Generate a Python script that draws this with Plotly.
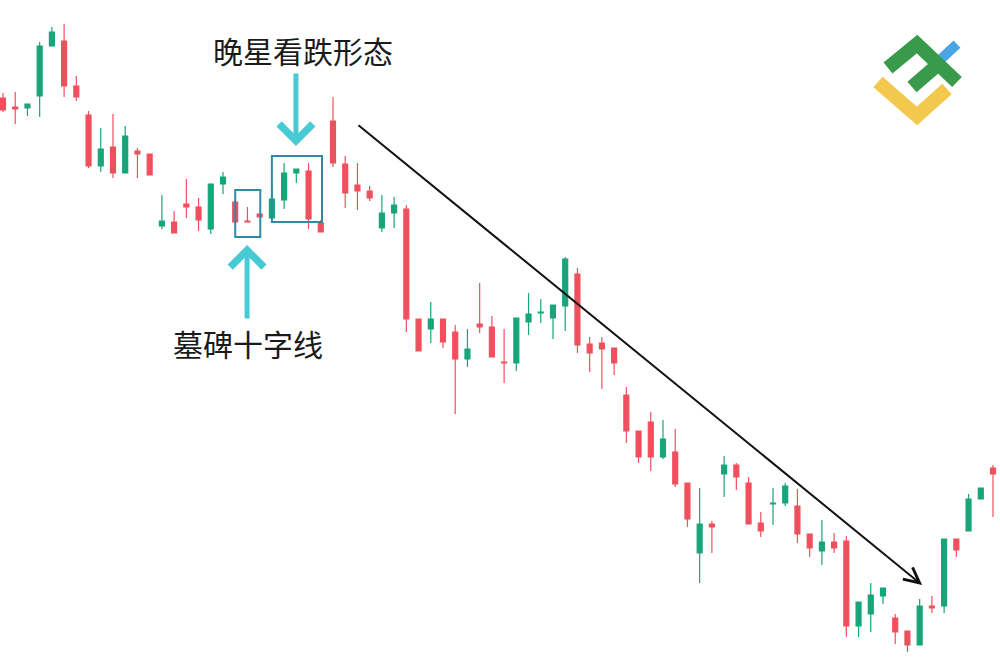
import plotly.graph_objects as go

# ---- data (arbitrary price units) ----
opens  = [602, 593, 592, 604, 654, 659, 614, 585, 534, 553, 527, 549, 546, 474, 478, 496, 493, 471, 516, 498,
          479, 486, 482, 500, 527, 529, 477, 579, 536, 515, 509, 472, 487, 491, 381, 371, 381, 368, 341, 376,
          373, 338, 337, 378, 387, 382, 394, 426, 356, 357, 352, 305, 269, 278, 243, 248, 217, 147, 176, 226,
          235, 217, 177, 196, 197, 194, 166, 149, 158, 159, 74, 86, 104, 82, 69, 55, 94, 94, 161, 169, 201, 232]
highs  = [607, 608, 596, 658, 673, 676, 624, 589, 572, 586, 574, 552, 546, 505, 489, 521, 502, 516, 528, 500,
          493, 486, 515, 537, 531, 537, 480, 603, 544, 537, 514, 505, 503, 495, 381, 398, 381, 375, 371, 417,
          384, 371, 382, 407, 401, 395, 443, 432, 363, 363, 352, 313, 269, 288, 280, 271, 217, 212, 179, 244,
          237, 223, 188, 212, 217, 211, 166, 180, 167, 164, 98, 117, 112, 86, 69, 101, 104, 161, 161, 206, 212, 235]
lows   = [588, 576, 584, 583, 654, 603, 599, 532, 528, 522, 527, 522, 525, 471, 467, 482, 469, 466, 506, 477,
          478, 483, 480, 491, 517, 471, 468, 533, 492, 490, 499, 468, 472, 368, 349, 357, 352, 286, 333, 367,
          343, 317, 329, 365, 377, 361, 369, 347, 328, 311, 325, 257, 237, 229, 241, 213, 173, 117, 147, 203,
          210, 176, 163, 175, 194, 157, 143, 135, 147, 63, 63, 68, 96, 56, 48, 55, 87, 87, 143, 169, 201, 183]
closes = [590, 591, 596, 654, 668, 614, 603, 534, 551, 527, 564, 546, 525, 479, 467, 493, 480, 516, 523, 478,
          478, 483, 501, 527, 531, 481, 468, 537, 507, 509, 502, 487, 495, 381, 349, 381, 358, 341, 351, 373,
          343, 337, 382, 386, 388, 395, 441, 355, 347, 351, 337, 269, 243, 243, 261, 216, 181, 176, 173, 235,
          223, 176, 169, 197, 214, 166, 152, 158, 152, 74, 98, 105, 112, 68, 55, 94, 92, 161, 150, 201, 212, 226]
idx = list(range(len(opens)))

label_top = "晚星看跌形态"
label_bottom = "墓碑十字线"

RED = "#F0505E"
GREEN = "#17A57A"
CYAN = "#48CAD4"
BOX = "#2F8BA3"
FONT = "Noto Sans CJK SC"

fig = go.Figure(go.Candlestick(
    x=idx, open=opens, high=highs, low=lows, close=closes,
    increasing=dict(line=dict(color=GREEN, width=1.2), fillcolor=GREEN),
    decreasing=dict(line=dict(color=RED, width=1.2), fillcolor=RED),
    whiskerwidth=0, showlegend=False, hoverinfo="skip",
))

# boxes around patterns (data coordinates)
fig.add_shape(type="rect", xref="x", yref="y", x0=22.0, x1=26.1, y0=478, y1=544,
              line=dict(color=BOX, width=2), fillcolor="rgba(0,0,0,0)")
fig.add_shape(type="rect", xref="x", yref="y", x0=19.0, x1=21.05, y0=463, y1=510,
              line=dict(color=BOX, width=2), fillcolor="rgba(0,0,0,0)")

# arrows
fig.add_annotation(x=23.97, y=554, ax=23.97, ay=628, xref="x", yref="y", axref="x", ayref="y",
                   text="", showarrow=True, arrowhead=4, arrowwidth=5, arrowsize=1.3,
                   arrowcolor=CYAN, standoff=0)
fig.add_annotation(x=19.97, y=455, ax=19.97, ay=380, xref="x", yref="y", axref="x", ayref="y",
                   text="", showarrow=True, arrowhead=4, arrowwidth=5, arrowsize=1.3,
                   arrowcolor=CYAN, standoff=0)
fig.add_annotation(x=75.2, y=115, ax=28.96, ay=576, xref="x", yref="y", axref="x", ayref="y",
                   text="", showarrow=True, arrowhead=5, arrowwidth=2, arrowsize=1.5,
                   arrowcolor="#111111", standoff=0)

# labels
fig.add_annotation(x=24.55, y=650, xref="x", yref="y", text=label_top, showarrow=False,
                   font=dict(family=FONT, size=30, color="#1a1a1a"))
fig.add_annotation(x=20.05, y=357, xref="x", yref="y", text=label_bottom, showarrow=False,
                   font=dict(family=FONT, size=30, color="#1a1a1a"))

# logo (decoration, paper coords from pixel positions)
W, H = 1000, 662
def P(pts):
    return "M " + " L ".join(f"{x / W:.4f},{1 - y / H:.4f}" for x, y in pts)

fig.add_shape(type="path", xref="paper", yref="paper", path=P([(939, 61), (957, 44)]),
              line=dict(color="#4BA4E6", width=10))
fig.add_shape(type="path", xref="paper", yref="paper", path=P([(878, 82), (917, 116), (947, 89)]),
              line=dict(color="#F2C94C", width=14))
fig.add_shape(type="path", xref="paper", yref="paper", path=P([(888, 68), (917, 44), (957, 82)]),
              line=dict(color="#3A9A4B", width=14))
fig.add_shape(type="path", xref="paper", yref="paper", path=P([(912, 87), (941, 62)]),
              line=dict(color="#3A9A4B", width=14))

fig.update_layout(
    width=1000, height=662,
    margin=dict(l=0, r=0, t=0, b=0),
    paper_bgcolor="white", plot_bgcolor="white",
    boxgap=0.42,
    xaxis=dict(range=[-0.245, 81.573], visible=False, rangeslider=dict(visible=False), fixedrange=True),
    yaxis=dict(range=[38, 700], visible=False, fixedrange=True),
)

fig.write_html("out.html", config={"displayModeBar": False},
               post_script="document.body.style.margin='0';document.body.style.overflow='hidden';")
